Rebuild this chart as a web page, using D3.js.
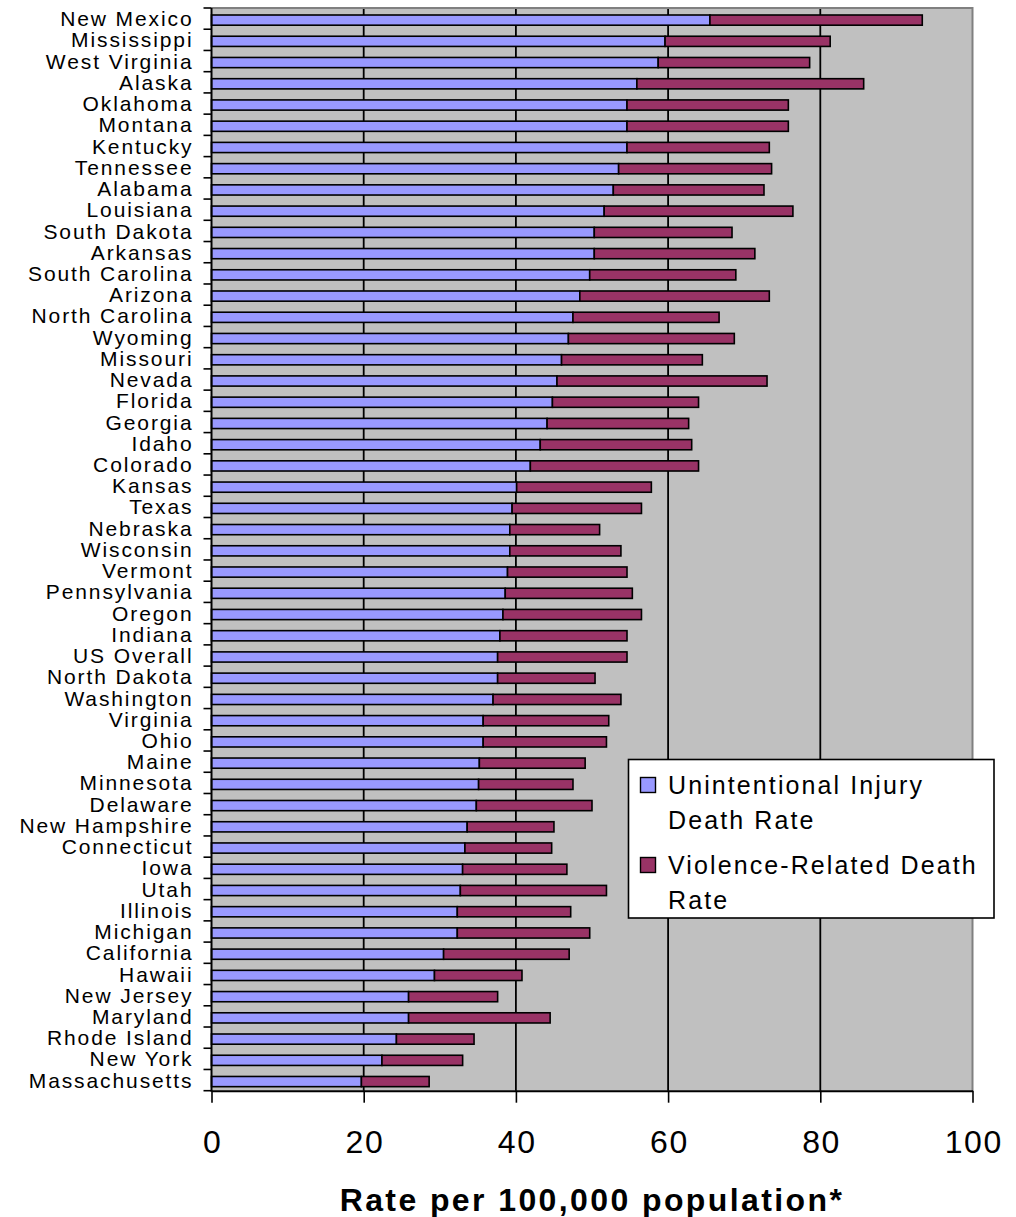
<!DOCTYPE html>
<html>
<head>
<meta charset="utf-8">
<script src="https://cdn.jsdelivr.net/npm/d3@7"></script>
<style>
  html, body { margin: 0; padding: 0; background: #ffffff; }
  svg { display: block; font-family: "Liberation Sans", Arial, sans-serif; }
</style>
</head>
<body>
<svg id="chart" width="1016" height="1217"></svg>
<script>
// States ordered from highest to lowest unintentional injury death rate
const states = [
  "New Mexico", "Mississippi", "West Virginia", "Alaska", "Oklahoma", "Montana",
  "Kentucky", "Tennessee", "Alabama", "Louisiana", "South Dakota", "Arkansas",
  "South Carolina", "Arizona", "North Carolina", "Wyoming", "Missouri", "Nevada",
  "Florida", "Georgia", "Idaho", "Colorado", "Kansas", "Texas", "Nebraska",
  "Wisconsin", "Vermont", "Pennsylvania", "Oregon", "Indiana", "US Overall",
  "North Dakota", "Washington", "Virginia", "Ohio", "Maine", "Minnesota",
  "Delaware", "New Hampshire", "Connecticut", "Iowa", "Utah", "Illinois",
  "Michigan", "California", "Hawaii", "New Jersey", "Maryland", "Rhode Island",
  "New York", "Massachusetts"
];

// Unintentional injury death rate per 100,000
const unintentional = [
  65.5, 59.6, 58.7, 55.9, 54.6, 54.6,
  54.6, 53.5, 52.8, 51.6, 50.3, 50.3,
  49.7, 48.4, 47.5, 46.9, 46.0, 45.4,
  44.8, 44.1, 43.2, 41.9, 40.1, 39.5, 39.2,
  39.2, 38.9, 38.6, 38.3, 37.9, 37.6,
  37.6, 37.0, 35.7, 35.7, 35.2, 35.1,
  34.8, 33.6, 33.3, 33.0, 32.7, 32.3,
  32.3, 30.5, 29.3, 25.9, 25.9, 24.3,
  22.4, 19.7
];

// Violence-related death rate per 100,000
const violence = [
  27.9, 21.7, 19.9, 29.8, 21.2, 21.2,
  18.7, 20.1, 19.8, 24.8, 18.1, 21.1,
  19.2, 24.9, 19.2, 21.8, 18.5, 27.6,
  19.2, 18.6, 19.9, 22.1, 17.7, 17.0, 11.8,
  14.6, 15.7, 16.7, 18.2, 16.7, 17.0,
  12.8, 16.8, 16.5, 16.2, 13.9, 12.4,
  15.2, 11.4, 11.4, 13.7, 19.2, 14.9,
  17.4, 16.5, 11.5, 11.7, 18.6, 10.2,
  10.6, 8.9
];

const seriesKeys = ["unintentional", "violence"];
const seriesNames = [
  ["Unintentional Injury", "Death Rate"],
  ["Violence-Related Death", "Rate"]
];
const seriesColors = ["#9999FF", "#993366"];
const xTicks = [0, 20, 40, 60, 80, 100];
const xTitle = "Rate per 100,000 population*";

const rows = states.map((s, i) => ({
  state: s,
  unintentional: unintentional[i],
  violence: violence[i]
}));

const svg = d3.select("#chart");

const plot = { left: 211.5, right: 972.5, top: 8, bottom: 1090.7 };

const x = d3.scaleLinear().domain([0, 100]).range([plot.left, plot.right]);
const y = d3.scaleBand().domain(states).range([plot.top, plot.bottom]).padding(0);
const bw = y.bandwidth();

// Plot area
svg.append("rect")
  .attr("x", plot.left).attr("y", plot.top)
  .attr("width", plot.right - plot.left).attr("height", plot.bottom - plot.top)
  .attr("fill", "#C0C0C0");

// Vertical gridlines
svg.append("g").selectAll("line")
  .data(xTicks.filter(t => t > 0 && t < 100))
  .join("line")
  .attr("x1", d => x(d)).attr("x2", d => x(d))
  .attr("y1", plot.top).attr("y2", plot.bottom)
  .attr("stroke", "#000").attr("stroke-width", 1.8);

// Stacked bars
const stacked = d3.stack().keys(seriesKeys)(rows);
svg.append("g").selectAll("g")
  .data(stacked)
  .join("g")
  .attr("fill", (d, i) => seriesColors[i])
  .selectAll("rect")
  .data(d => d)
  .join("rect")
  .attr("x", d => x(d[0]))
  .attr("width", d => x(d[1]) - x(d[0]))
  .attr("y", d => y(d.data.state) + bw * 0.33)
  .attr("height", bw * 0.48)
  .attr("stroke", "#000")
  .attr("stroke-width", 1.6);

// Plot area border (top and right)
svg.append("path")
  .attr("d", `M${plot.left},${plot.top}H${plot.right}V${plot.bottom}`)
  .attr("fill", "none").attr("stroke", "#808080").attr("stroke-width", 2);

// Category axis: ticks on band boundaries, labels at band centres
const catAxis = svg.append("g");
const boundaries = states.map(s => y(s)).concat([plot.bottom]);
catAxis.selectAll("line.tick")
  .data(boundaries)
  .join("line")
  .attr("class", "tick")
  .attr("x1", plot.left - 8).attr("x2", plot.left)
  .attr("y1", d => d).attr("y2", d => d)
  .attr("stroke", "#000").attr("stroke-width", 1.6);
catAxis.append("line")
  .attr("x1", plot.left).attr("x2", plot.left)
  .attr("y1", plot.top).attr("y2", plot.bottom + 1)
  .attr("stroke", "#000").attr("stroke-width", 2);
catAxis.selectAll("text")
  .data(states)
  .join("text")
  .attr("x", 193.5)
  .attr("y", d => y(d) + bw / 2 + 7.6)
  .attr("text-anchor", "end")
  .attr("font-size", 21)
  .attr("letter-spacing", 1.9)
  .attr("fill", "#000")
  .text(d => d);

// Value axis
const xAxis = svg.append("g")
  .attr("transform", `translate(0,${plot.bottom})`)
  .call(d3.axisBottom(x).tickValues(xTicks).tickSize(12).tickSizeOuter(0));
xAxis.select(".domain").attr("stroke", "#000").attr("stroke-width", 2);
xAxis.selectAll(".tick line").attr("stroke", "#000").attr("stroke-width", 1.6);
xAxis.selectAll(".tick text")
  .attr("y", 62.6).attr("dy", null)
  .attr("font-size", 32)
  .attr("letter-spacing", 1.6)
  .attr("font-family", "'Liberation Sans', Arial, sans-serif")
  .attr("fill", "#000")
  .attr("dx", 0.8);

// Axis title
svg.append("text")
  .attr("x", (plot.left + plot.right) / 2)
  .attr("y", 1211)
  .attr("text-anchor", "middle")
  .attr("font-size", 32)
  .attr("font-weight", "bold")
  .attr("letter-spacing", 2.4)
  .attr("fill", "#000")
  .text(xTitle);

// Legend
const legend = svg.append("g");
legend.append("rect")
  .attr("x", 628.5).attr("y", 759.5)
  .attr("width", 365.5).attr("height", 158.5)
  .attr("fill", "#fff").attr("stroke", "#000").attr("stroke-width", 1.6);
const entries = legend.selectAll("g.entry")
  .data(seriesNames)
  .join("g")
  .attr("class", "entry")
  .attr("transform", (d, i) => `translate(0,${i * 80})`);
entries.append("rect")
  .attr("x", 640.5).attr("y", 777.5)
  .attr("width", 15).attr("height", 15)
  .attr("fill", (d, i) => seriesColors[i])
  .attr("stroke", "#000").attr("stroke-width", 1.4);
entries.each(function (lines) {
  const g = d3.select(this);
  lines.forEach((line, j) => {
    g.append("text")
      .attr("x", 668)
      .attr("y", 794 + j * 34.5)
      .attr("font-size", 25)
      .attr("letter-spacing", 2.1)
      .attr("fill", "#000")
      .text(line);
  });
});
</script>
</body>
</html>
